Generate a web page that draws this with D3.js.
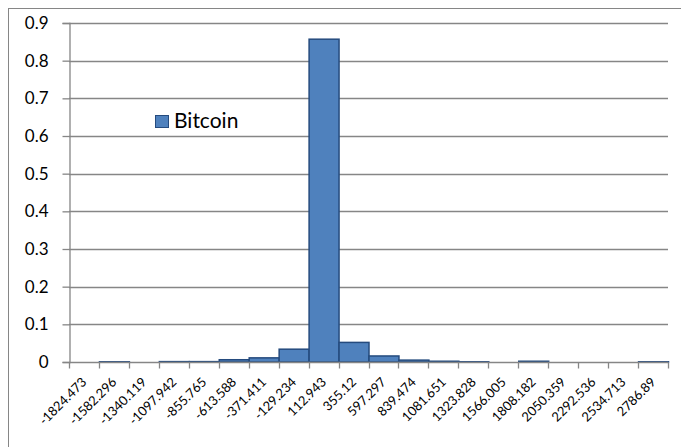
<!DOCTYPE html>
<html><head><meta charset="utf-8">
<script src="https://cdn.jsdelivr.net/npm/d3@7"></script>
<style>body{margin:0;background:#fff}svg{display:block}</style>
</head><body>
<script>
const categories = ["-1824.473","-1582.296","-1340.119","-1097.942","-855.765","-613.588","-371.411","-129.234","112.943","355.12","597.297","839.474","1081.651","1323.828","1566.005","1808.182","2050.359","2292.536","2534.713","2786.89"];
const bitcoin = [0,0.0005,0,0.001,0.001,0.006,0.011,0.034,0.857,0.052,0.016,0.005,0.002,0.0005,0,0.002,0,0,0,0.0005];
const yTicks = [0,0.1,0.2,0.3,0.4,0.5,0.6,0.7,0.8,0.9];
const seriesName = "Bitcoin";

const W=681,H=447;
const m={l:69,r:13,t:23,b:85};
const font="Lato, 'Open Sans', sans-serif";
const svg=d3.select("body").append("svg").attr("width",W).attr("height",H);
svg.append("rect").attr("x",8.5).attr("y",8.5).attr("width",680).attr("height",445)
  .attr("fill","#fff").attr("stroke","#868686").attr("stroke-width",1);

const x=d3.scaleBand().domain(categories).range([m.l,W-m.r]).padding(0);
const y=d3.scaleLinear().domain([0,0.9]).range([H-m.b,m.t]);

// gridlines
svg.append("g").selectAll("line").data(yTicks.filter(d=>d>0)).join("line")
  .attr("x1",m.l).attr("x2",W-m.r).attr("y1",d=>Math.round(y(d))+0.5).attr("y2",d=>Math.round(y(d))+0.5)
  .attr("stroke","#868686").attr("stroke-width",1.3);

// bars
svg.append("g").selectAll("rect").data(bitcoin).join("rect")
  .attr("x",(d,i)=>x(categories[i])+0.5).attr("width",x.bandwidth())
  .attr("y",d=>y(d)).attr("height",d=>y(0)-y(d))
  .attr("fill","#4F81BD").attr("stroke","#254B7E").attr("stroke-width",1.5);

// y axis
const ya=svg.append("g").attr("transform",`translate(${m.l+0.5},0)`)
  .call(d3.axisLeft(y).tickValues(yTicks).tickFormat(d3.format(".1~f")).tickSize(7).tickPadding(14));
ya.select(".domain").attr("stroke","#868686").attr("stroke-width",1.3);
ya.selectAll(".tick line").attr("stroke","#868686").attr("stroke-width",1.3);
ya.selectAll("text").attr("font-family",font).attr("font-size",17).attr("fill","#000");

// x axis
const xaxG=svg.append("g").attr("transform",`translate(0,${Math.round(y(0))+0.5})`);
xaxG.append("line").attr("x1",m.l).attr("x2",W-m.r).attr("stroke","#868686").attr("stroke-width",1.3);
const bounds=categories.map(c=>x(c)).concat([W-m.r]);
xaxG.selectAll("line.tk").data(bounds).join("line").attr("class","tk")
  .attr("x1",d=>Math.round(d)+0.5).attr("x2",d=>Math.round(d)+0.5).attr("y1",0).attr("y2",6)
  .attr("stroke","#868686").attr("stroke-width",1.3);
xaxG.selectAll("text").data(categories).join("text")
  .attr("transform",d=>`translate(${x(d)+x.bandwidth()/2-3},14) rotate(-45)`)
  .attr("text-anchor","end").attr("dy","0.7em")
  .attr("font-family",font).attr("font-size",13).attr("fill","#000")
  .text(d=>d);

// legend
const lg=svg.append("g").attr("transform","translate(155,115)");
lg.append("rect").attr("x",0.5).attr("y",0.5).attr("width",13).attr("height",12)
  .attr("fill","#4F81BD").attr("stroke","#254B7E").attr("stroke-width",1);
lg.append("text").attr("x",19).attr("y",12.5).attr("font-family",font)
  .attr("font-size",21).attr("fill","#000").text(seriesName);
</script>
</body></html>
